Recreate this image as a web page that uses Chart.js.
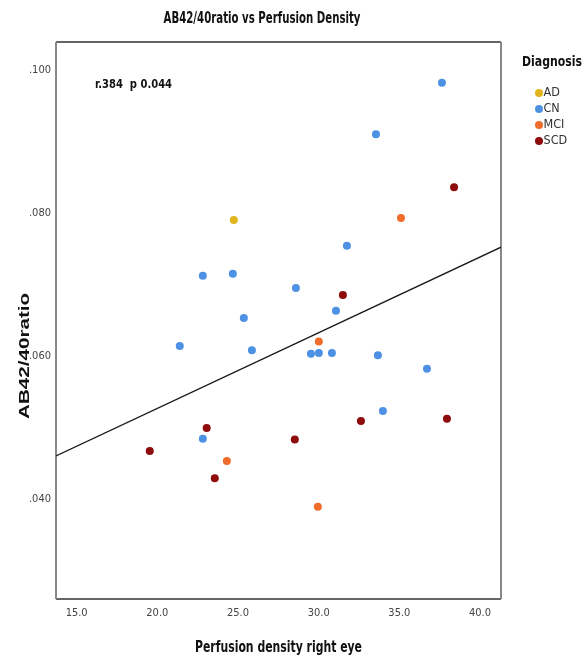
<!DOCTYPE html>
<html>
<head>
<meta charset="utf-8">
<script src="https://cdn.jsdelivr.net/npm/chart.js@4.4.1/dist/chart.umd.min.js"></script>
<style>
html, body { margin: 0; padding: 0; background: #fff; }
#wrap { width: 585px; height: 665px; }
</style>
</head>
<body>
<div id="wrap"><canvas id="scatter" width="585" height="665"></canvas></div>
<script>
// values
const adX = [24.74];
const adY = [0.0790];
const cnX = [37.64, 33.55, 31.75, 28.59, 31.07, 25.36, 21.39, 25.86, 22.82, 29.52, 30.01, 30.82, 33.67, 36.71, 33.98, 22.82, 24.68];
const cnY = [0.0982, 0.0910, 0.0754, 0.0695, 0.0663, 0.0653, 0.0614, 0.0608, 0.0484, 0.0603, 0.0604, 0.0604, 0.0601, 0.0582, 0.0523, 0.0712, 0.0715];
const mciX = [35.10, 30.01, 24.31, 29.95];
const mciY = [0.0793, 0.0620, 0.0453, 0.0389];
const scdX = [38.39, 31.50, 23.06, 19.53, 23.56, 32.62, 37.95, 28.52];
const scdY = [0.0836, 0.0685, 0.0499, 0.0467, 0.0429, 0.0509, 0.0512, 0.0483];

// fit line end points
const fitX = [13.72, 41.30];
const fitY = [0.0460, 0.0752];

const xTicks = [15, 20, 25, 30, 35, 40];
const yTicks = [0.040, 0.060, 0.080, 0.100];

const groups = ['AD', 'CN', 'MCI', 'SCD'];
const groupColors = ['#e2b51d', '#4d91e4', '#f06c2b', '#8e0c0c'];

const NARROW = '"Liberation Sans Narrow", "DejaVu Sans Condensed", "Arial Narrow", sans-serif';
const SANS = '"Liberation Sans", Arial, sans-serif';

function pairs(xs, ys) {
    return xs.map((x, i) => ({x: x, y: ys[i]}));
}

// text squeezed/stretched to a given width (the original uses a narrow face)
function fitText(ctx, text, x, y, font, width, align) {
    ctx.save();
    ctx.font = font;
    ctx.textBaseline = 'middle';
    ctx.textAlign = 'left';
    const w = ctx.measureText(text).width;
    const k = width ? width / w : 1;
    let left = x;
    if (align === 'center') left = x - w * k / 2;
    if (align === 'right') left = x - w * k;
    ctx.translate(left, y);
    ctx.scale(k, 1);
    ctx.fillText(text, 0, 0);
    ctx.restore();
}

const decor = {
    id: 'decor',
    beforeDatasetsDraw(chart) {
        const {ctx, chartArea: a} = chart;
        ctx.save();
        ctx.lineWidth = 1.6;
        ctx.strokeStyle = '#333';
        ctx.beginPath();
        ctx.moveTo(a.left, a.top); ctx.lineTo(a.right, a.top);
        ctx.moveTo(a.left, a.bottom); ctx.lineTo(a.right, a.bottom);
        ctx.stroke();
        ctx.strokeStyle = '#888';
        ctx.lineWidth = 2;
        ctx.beginPath();
        ctx.moveTo(a.left, a.top); ctx.lineTo(a.left, a.bottom);
        ctx.moveTo(a.right, a.top); ctx.lineTo(a.right, a.bottom);
        ctx.stroke();
        ctx.restore();
    },
    afterDraw(chart) {
        const {ctx, chartArea: a} = chart;
        ctx.save();
        ctx.fillStyle = '#111';
        fitText(ctx, 'AB42/40ratio vs Perfusion Density', 262, 19, 'bold 15px ' + NARROW, 197, 'center');
        fitText(ctx, 'r.384  p 0.044', a.left + 39, a.top + 43, 'bold 13px ' + NARROW, 77, 'left');
        fitText(ctx, 'Perfusion density right eye', (a.left + a.right) / 2, 648, 'bold 15px ' + NARROW, 167, 'center');

        // y axis title, rotated
        ctx.save();
        ctx.translate(25, chart.scales.y.getPixelForValue(0.060));
        ctx.rotate(-Math.PI / 2);
        fitText(ctx, 'AB42/40ratio', 0, 0, 'bold 15px ' + SANS, 126, 'center');
        ctx.restore();

        // legend
        fitText(ctx, 'Diagnosis', 522, 62, 'bold 14px ' + NARROW, 60, 'left');
        chart.data.datasets.filter(d => groups.includes(d.label)).forEach((d, i) => {
            const y = 93 + i * 16;
            ctx.beginPath();
            ctx.fillStyle = d.backgroundColor;
            ctx.arc(539, y, 4, 0, Math.PI * 2);
            ctx.fill();
            ctx.fillStyle = '#333';
            fitText(ctx, d.label, 543.5, y, '12.5px ' + NARROW, null, 'left');
        });
        ctx.restore();
    }
};

const groupData = [pairs(adX, adY), pairs(cnX, cnY), pairs(mciX, mciY), pairs(scdX, scdY)];

let datasets = groups.map((g, i) => ({
    type: 'scatter',
    label: g,
    data: groupData[i],
    backgroundColor: groupColors[i],
    borderColor: groupColors[i],
    borderWidth: 0,
    pointRadius: 4,
    order: 1,
}));

datasets.push({
    type: 'line',
    label: 'fit',
    data: pairs(fitX, fitY),
    borderColor: '#1a1a1a',
    borderWidth: 1.3,
    pointRadius: 0,
    fill: false,
    order: 2,
});

new Chart(document.getElementById('scatter'), {
    type: 'scatter',
    data: {datasets: datasets},
    options: {
        responsive: false,
        animation: false,
        devicePixelRatio: 1,
        layout: {padding: {left: 0, top: 42, right: 84, bottom: 0}},
        plugins: {
            legend: {display: false},
            tooltip: {enabled: false},
            title: {display: false},
        },
        scales: {
            x: {
                type: 'linear',
                min: 13.72,
                max: 41.30,
                grid: {display: false, drawTicks: false},
                border: {display: false},
                afterBuildTicks: (scale) => {
                    scale.ticks = xTicks.map(v => ({value: v}));
                },
                afterFit: (scale) => {
                    scale.height = 66;
                },
                ticks: {
                    padding: 8,
                    color: '#444',
                    font: {family: NARROW, size: 11},
                    callback: (v) => Number(v).toFixed(1),
                },
            },
            y: {
                type: 'linear',
                min: 0.0260,
                max: 0.1039,
                grid: {display: false, drawTicks: false},
                border: {display: false},
                afterBuildTicks: (scale) => {
                    scale.ticks = yTicks.map(v => ({value: v}));
                },
                afterFit: (scale) => {
                    scale.width = 56;
                },
                ticks: {
                    padding: 5,
                    color: '#444',
                    font: {family: NARROW, size: 11},
                    callback: (v) => Number(v).toFixed(3).replace(/^0/, ''),
                },
            },
        },
    },
    plugins: [decor],
});
</script>
</body>
</html>
